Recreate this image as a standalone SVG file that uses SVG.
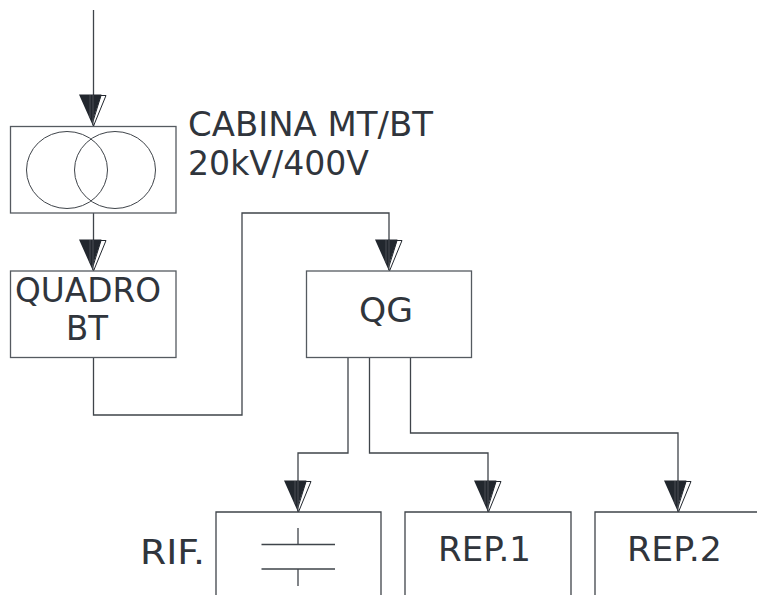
<svg xmlns="http://www.w3.org/2000/svg" width="757" height="595" viewBox="0 0 757 595">
<defs>
<style>
.l{fill:none;stroke:#3f444a;stroke-width:1.3}
.b{fill:#fff;stroke:#555a60;stroke-width:1.3}
.t{font-family:"DejaVu Sans","Verdana",sans-serif;font-size:33.500px;fill:#30353c}
</style>
<g id="arrow">
<path d="M0.500 0L13 -30.500H8L-0.500 -3Z" fill="#fff" stroke="#22272e" stroke-width="1"/>
<path d="M0 0L-14 -31.500H8.500L7.500 -28.500L-0.500 -5Z" fill="#22272e"/>
<path d="M-3 -31V-8M0 -31V-1" fill="none" stroke="#4a4f55" stroke-width="1"/>
</g>
</defs>
<rect width="757" height="595" fill="#fff"/>
<g id="connectors">
<path class="l" d="M93.500 10V126"/>
<path class="l" d="M93.500 213V270"/>
<path class="l" d="M93.500 357V415H242V213H389V270"/>
<path class="l" d="M348 357V453H298V512"/>
<path class="l" d="M369.500 357V453H488V512"/>
<path class="l" d="M410.500 357V433H678V512"/>
<use href="#arrow" x="93" y="126"/>
<use href="#arrow" x="93" y="271"/>
<use href="#arrow" x="389" y="271"/>
<use href="#arrow" x="298" y="512"/>
<use href="#arrow" x="488" y="512"/>
<use href="#arrow" x="678" y="512"/>
</g>
<g id="cabina">
<rect class="b" x="10.500" y="126.500" width="165.500" height="86.500" fill-opacity="0"/>
<ellipse cx="67" cy="170" rx="40.500" ry="38.500" fill="none" stroke="#3f444a" stroke-width="1"/>
<ellipse cx="115" cy="170" rx="40.500" ry="38.500" fill="none" stroke="#3f444a" stroke-width="1"/>
<text class="t" x="188" y="136" textLength="245" lengthAdjust="spacingAndGlyphs">CABINA MT/BT</text>
<text class="t" x="188" y="175" textLength="181" lengthAdjust="spacingAndGlyphs">20kV/400V</text>
</g>
<g id="quadro">
<rect class="b" x="10.500" y="271" width="165.500" height="86.500"/>
<text class="t" x="15" y="302" textLength="146" lengthAdjust="spacingAndGlyphs">QUADRO</text>
<text class="t" x="66" y="340" textLength="42" lengthAdjust="spacingAndGlyphs">BT</text>
</g>
<g id="qg">
<rect class="b" x="306.500" y="271" width="165" height="86.500"/>
<text class="t" x="359" y="322" textLength="54" lengthAdjust="spacingAndGlyphs">QG</text>
</g>
<g id="rif">
<path class="l" d="M216 595V512H381V595"/>
<path class="l" d="M298 528V545M261.500 544.500H335M261.500 569H335M298 569V586"/>
<text class="t" x="140" y="564" textLength="65" lengthAdjust="spacingAndGlyphs">RIF.</text>
</g>
<g id="rep1">
<path class="l" d="M405 595V512H571V595"/>
<text class="t" x="438" y="561" textLength="93" lengthAdjust="spacingAndGlyphs">REP.1</text>
</g>
<g id="rep2">
<path class="l" d="M595 595V512H757"/>
<text class="t" x="627" y="561" textLength="95" lengthAdjust="spacingAndGlyphs">REP.2</text>
</g>
</svg>
